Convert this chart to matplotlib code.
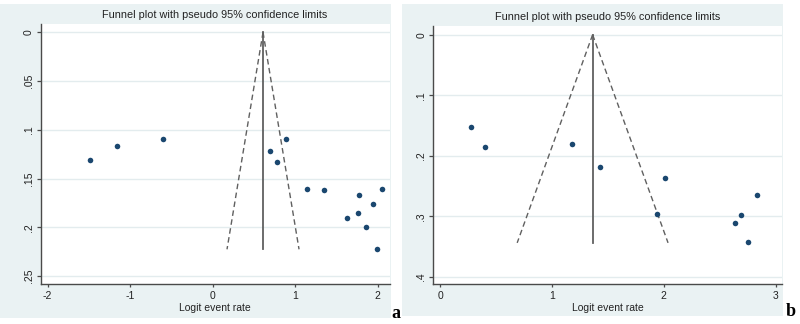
import matplotlib
matplotlib.use("Agg")
import matplotlib.pyplot as plt
from matplotlib.patches import Rectangle
import numpy as np

plt.rcParams['font.family'] = ['Liberation Sans', 'DejaVu Sans']

# ---------------- data ----------------
# Panel a
a_logit = [-1.488, -1.161, -0.601, 0.698, 0.774, 0.883, 1.141, 1.347,
           1.766, 2.052, 1.940, 1.762, 1.629, 1.851, 1.996]
a_se = [0.1313, 0.1166, 0.1098, 0.1217, 0.1327, 0.1094, 0.1611, 0.1621,
        0.1669, 0.1604, 0.1761, 0.1854, 0.1905, 0.2001, 0.2223]
a_pooled = 0.609
a_se_max = 0.2226
a_xticks = [-2, -1, 0, 1, 2]
a_xticklabels = ["-2", "-1", "0", "1", "2"]
a_yticks = [0, 0.05, 0.1, 0.15, 0.2, 0.25]
a_yticklabels = ["0", ".05", ".1", ".15", ".2", ".25"]

# Panel b
b_logit = [0.274, 0.399, 1.177, 1.430, 2.014, 1.936, 2.830, 2.693, 2.639, 2.752]
b_se = [0.1532, 0.1857, 0.1807, 0.2182, 0.2375, 0.2959, 0.2650, 0.2981, 0.3113, 0.3433]
b_pooled = 1.364
b_se_max = 0.344
b_xticks = [0, 1, 2, 3]
b_xticklabels = ["0", "1", "2", "3"]
b_yticks = [0, 0.1, 0.2, 0.3, 0.4]
b_yticklabels = ["0", ".1", ".2", ".3", ".4"]

title = "Funnel plot with pseudo 95% confidence limits"
xlabel = "Logit event rate"

# ---------------- style ----------------
BG = "#EAF2F3"
GRID = "#E3ECEE"
NAVY = "#1A476F"
LINE = "#606060"
SPINE = "#4a4a4a"

W, H = 800, 324
fig = plt.figure(figsize=(W / 100, H / 100), dpi=100)
fig.patch.set_facecolor("white")

def frac_rect(x0, y0, x1, y1):
    return (x0 / W, 1 - y1 / H, (x1 - x0) / W, (y1 - y0) / H)

# graph-region backgrounds
for (x0, y0, x1, y1) in [(0, 3.5, 391, 318), (401.7, 3.5, 783.5, 316)]:
    l, b, w, h = frac_rect(x0, y0, x1, y1)
    fig.patches.append(Rectangle((l, b), w, h, transform=fig.transFigure,
                                 facecolor=BG, edgecolor="none", zorder=-5))

def funnel(ax, logit, se, pooled, se_max, xticks, xtl, yticks, ytl, xlim, ylim):
    ax.set_facecolor("white")
    for y in yticks:
        ax.axhline(y, color=GRID, lw=1.0, zorder=1)
    s = np.array([0.0, se_max])
    ax.plot(pooled - 1.96 * s, s, color=LINE, lw=1.0, ls=(0, (4, 2.5)), zorder=2)
    ax.plot(pooled + 1.96 * s, s, color=LINE, lw=1.0, ls=(0, (4, 2.5)), zorder=2)
    ax.plot([pooled, pooled], [0, se_max], color=LINE, lw=1.3, zorder=2)
    ax.scatter(logit, se, s=16, color=NAVY, zorder=3, linewidths=0)
    ax.set_xlim(*xlim)
    ax.set_ylim(*ylim)
    ax.set_xticks(xticks)
    ax.set_xticklabels(xtl)
    ax.set_yticks(yticks)
    ax.set_yticklabels(ytl, rotation=90, va="center")
    ax.tick_params(axis="x", length=2.5, width=0.9, color=SPINE, pad=2.5,
                   labelsize=7.5, labelcolor="#222222")
    ax.tick_params(axis="y", length=3, width=0.9, color=SPINE, pad=2,
                   labelsize=7.5, labelcolor="#222222")
    for sp in ["top", "right"]:
        ax.spines[sp].set_visible(False)
    for sp in ["left", "bottom"]:
        ax.spines[sp].set_color(SPINE)
        ax.spines[sp].set_linewidth(1.0)
    ax.set_title(title, fontsize=7.8, pad=4, color="#222222")
    ax.set_xlabel(xlabel, fontsize=7.5, labelpad=1.5, color="#222222")

ax_a = fig.add_axes(frac_rect(40.7, 24, 389.5, 284), zorder=2)
funnel(ax_a, a_logit, a_se, a_pooled, a_se_max, a_xticks, a_xticklabels,
       a_yticks, a_yticklabels, (-2.085, 2.1416), (0.2582, -0.0085))

ax_b = fig.add_axes(frac_rect(433.3, 26, 781.7, 284), zorder=2)
funnel(ax_b, b_logit, b_se, b_pooled, b_se_max, b_xticks, b_xticklabels,
       b_yticks, b_yticklabels, (-0.060, 3.054), (0.412, -0.0144))

fig.text(391.5 / W, 1 - 317.5 / H, "a", fontsize=13, fontweight="bold",
         family="Liberation Serif", ha="left", va="baseline")
fig.text(786 / W, 1 - 316 / H, "b", fontsize=13, fontweight="bold",
         family="Liberation Serif", ha="left", va="baseline")

fig.savefig("out.png", dpi=100, facecolor="white")
